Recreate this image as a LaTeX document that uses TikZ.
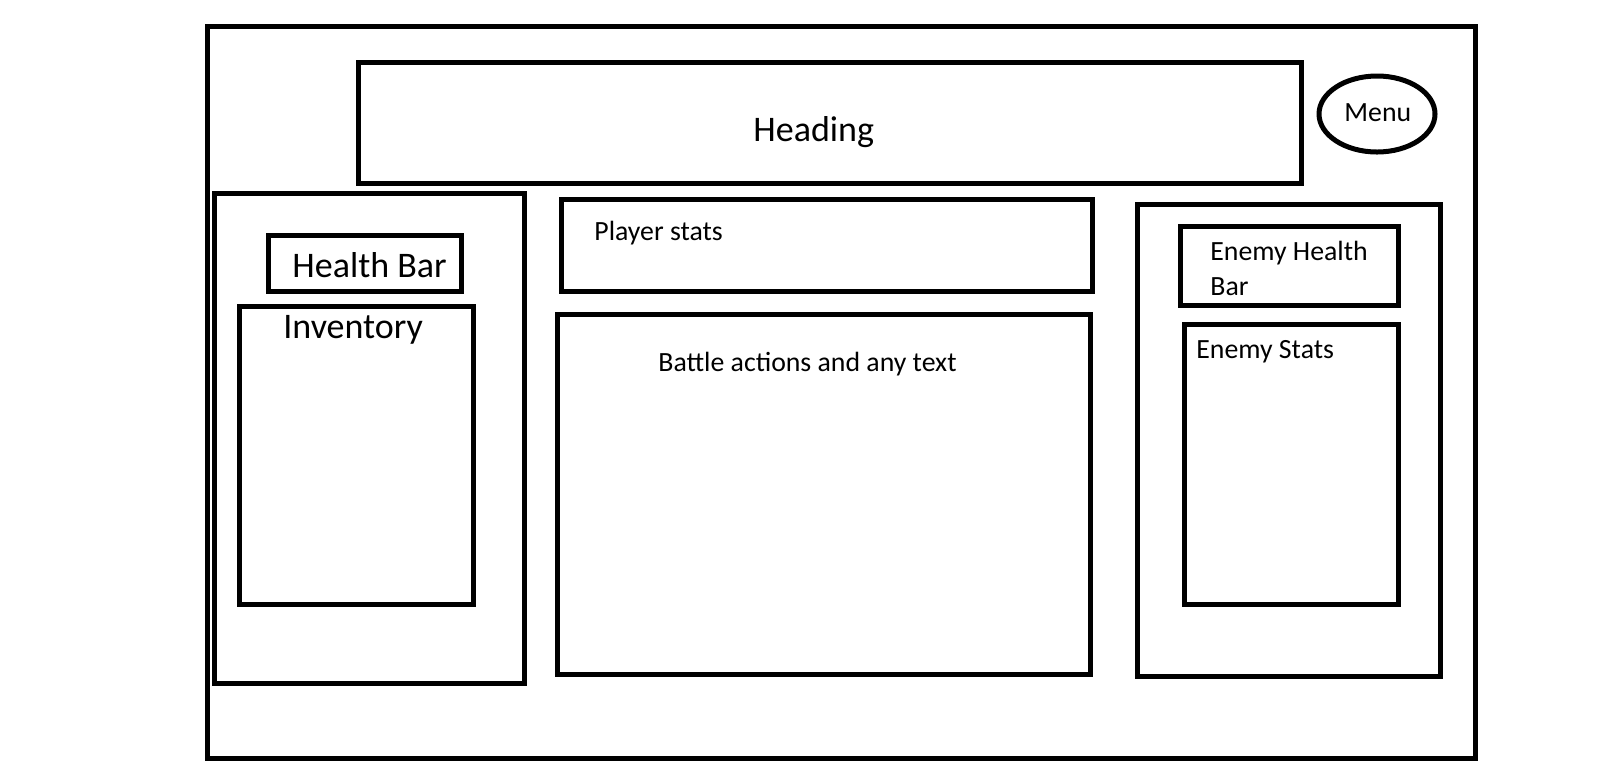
\documentclass[tikz,border=0pt]{standalone}
\usepackage{fontspec}
\setmainfont{Carlito}
\tikzset{
  frame/.style={draw=black, line width=2.5pt},
  big/.style={anchor=base west, inner sep=0pt, font=\fontsize{18pt}{21pt}\selectfont},
  small/.style={anchor=base west, inner sep=0pt, font=\fontsize{13.9pt}{16pt}\selectfont},
}
\begin{document}
\begin{tikzpicture}[x=0.5pt, y=-0.5pt]
\useasboundingbox (0,0) rectangle (1615,783);
% outer frame
\draw[frame] (207.5,26.5) rectangle (1475.3,758.3);
% heading
\draw[frame] (358,62.5) rectangle (1301,183);
\node[big] (heading) at (753,141.5) {Heading};
% menu
\draw[frame] (1377,114) ellipse [x radius=58, y radius=38];
\node[small] (menu) at (1344,121.5) {Menu};
% left panel
\draw[frame] (214,193) rectangle (524,683.3);
\draw[frame] (268.7,235.7) rectangle (461,291);
\node[big] (health) at (292,277) {Health Bar};
\draw[frame] (239.5,306) rectangle (473,604);
\node[big] (inventory) at (283,338.5) {Inventory};
% centre
\draw[frame] (561,199) rectangle (1092,291);
\node[small] (player) at (594,240.5) {Player stats};
\draw[frame] (557.5,314) rectangle (1090.3,674.3);
\node[small] (battle) at (658,371) {Battle actions and any text};
% right panel
\draw[frame] (1137,204) rectangle (1440.3,676.3);
\draw[frame] (1180,226) rectangle (1398.2,305.7);
\node[small] (enemyh1) at (1210,260.5) {Enemy Health};
\node[small] (enemyh2) at (1210,295.5) {Bar};
\draw[frame] (1184,324) rectangle (1398.3,604);
\node[small] (enemys) at (1196,358.5) {Enemy Stats};
\end{tikzpicture}
\end{document}
